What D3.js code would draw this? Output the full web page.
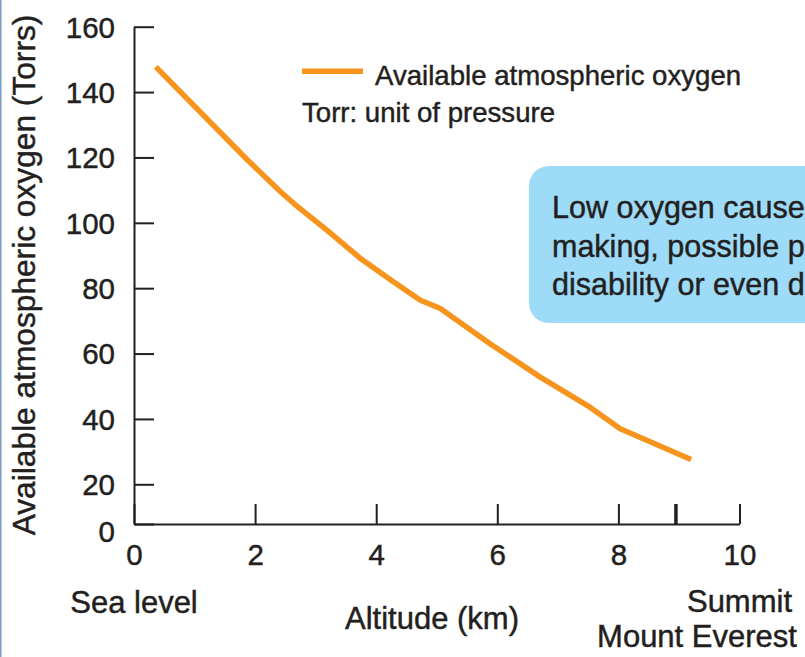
<!DOCTYPE html>
<html>
<head>
<meta charset="utf-8">
<script src="https://cdn.jsdelivr.net/npm/d3@7"></script>
<style>
  html, body { margin: 0; padding: 0; background: #fff; }
  svg { display: block; font-family: "Liberation Sans", Arial, Helvetica, sans-serif; }
  svg text { stroke: #231f20; stroke-width: 0.45px; }
</style>
</head>
<body>
<svg id="chart" width="805" height="657"></svg>
<script>
// ---- data ----
const altitudeKm = [0.36, 1.87, 2.42, 2.64, 3.19, 3.74, 4.29, 4.73, 5.06, 5.88, 6.71, 7.53, 8.03, 9.2];
const oxygenTorr = [147.7, 119.3, 109.5, 105.9, 97.7, 89.1, 81.9, 76.3, 73.8, 63.0, 52.8, 43.6, 37.0, 27.6];
const xTicks = [0, 2, 4, 6, 8, 10];
const yTicks = [0, 20, 40, 60, 80, 100, 120, 140, 160];
const everestKm = [8.95];
const legendLabel = "Available atmospheric oxygen";
const legendNote = "Torr: unit of pressure";
const calloutLines = ["Low oxygen causes poor decision-", "making, possible permanent", "disability or even death"];

const ink = "#231f20";
const orange = "#f7941d";

const svg = d3.select("#chart");

// left page edge
svg.append("rect").attr("x", 0).attr("y", 0).attr("width", 1.5).attr("height", 657).attr("fill", "#7c9cc4");

// scales (y axis is compressed between 0 and 20)
const x = d3.scaleLinear().domain([0, 10]).range([134, 739.5]);
const y = d3.scaleLinear().domain([0, 20, 160]).range([524, 484.3, 26.7]);

// callout box
const box = svg.append("g");
box.append("rect").attr("x", 529).attr("y", 166).attr("width", 320).attr("height", 157)
  .attr("rx", 20).attr("fill", "#9ddbf8");
box.selectAll("text").data(calloutLines).join("text")
  .attr("x", 552).attr("y", (d, i) => 218 + i * 38.5)
  .attr("font-size", 30.5).attr("fill", ink).text(d => d);

// y axis
const yAxis = svg.append("g").attr("transform", `translate(${x(0)},0)`)
  .call(d3.axisLeft(y).tickValues(yTicks).tickSize(-20).tickSizeOuter(0).tickPadding(19).tickFormat(d3.format("d")));
yAxis.select(".domain").attr("stroke", ink).attr("stroke-width", 2);
yAxis.selectAll(".tick line").attr("stroke", ink).attr("stroke-width", 2);
yAxis.selectAll(".tick text").attr("font-size", 29.5).attr("fill", ink).attr("font-family", null)
  .attr("dy", d => d === 0 ? "0.58em" : "0.35em");

// x axis
const xAxis = svg.append("g").attr("transform", `translate(0,${y(0)})`)
  .call(d3.axisBottom(x).tickValues(xTicks).tickSize(-20).tickSizeOuter(0).tickPadding(20).tickFormat(d3.format("d")));
xAxis.select(".domain").attr("stroke", ink).attr("stroke-width", 2);
xAxis.selectAll(".tick line").attr("stroke", ink).attr("stroke-width", 2);
xAxis.selectAll(".tick text").attr("font-size", 29.5).attr("fill", ink).attr("font-family", null);

// Everest marker tick
svg.append("g").selectAll("line").data(everestKm).join("line")
  .attr("x1", d => x(d)).attr("x2", d => x(d))
  .attr("y1", y(0)).attr("y2", y(0) - 20)
  .attr("stroke", ink).attr("stroke-width", 3.5);

// data line
const pts = altitudeKm.map((a, i) => [a, oxygenTorr[i]]);
svg.append("path").datum(pts)
  .attr("fill", "none").attr("stroke", orange).attr("stroke-width", 5.5)
  .attr("stroke-linejoin", "round")
  .attr("d", d3.line().x(d => x(d[0])).y(d => y(d[1])));

// legend
svg.append("line").attr("x1", 302).attr("x2", 363).attr("y1", 71.3).attr("y2", 71.3)
  .attr("stroke", orange).attr("stroke-width", 5.5);
svg.append("text").attr("x", 375).attr("y", 85).attr("font-size", 27.6).attr("fill", ink).text(legendLabel);
svg.append("text").attr("x", 302).attr("y", 121.5).attr("font-size", 27.6).attr("fill", ink).text(legendNote);

// axis titles and annotations
svg.append("text").attr("transform", "translate(35,275) rotate(-90)")
  .attr("text-anchor", "middle").attr("font-size", 31.7).attr("fill", ink)
  .text("Available atmospheric oxygen (Torrs)");
svg.append("text").attr("x", x(0)).attr("y", 613).attr("text-anchor", "middle")
  .attr("font-size", 31).attr("fill", ink).text("Sea level");
svg.append("text").attr("x", 432).attr("y", 628.5).attr("text-anchor", "middle")
  .attr("font-size", 31).attr("fill", ink).text("Altitude (km)");
svg.append("text").attr("x", x(10)).attr("y", 611.7).attr("text-anchor", "middle")
  .attr("font-size", 31).attr("fill", ink).text("Summit");
svg.append("text").attr("x", 697).attr("y", 646.7).attr("text-anchor", "middle")
  .attr("font-size", 31).attr("fill", ink).text("Mount Everest");
</script>
</body>
</html>
